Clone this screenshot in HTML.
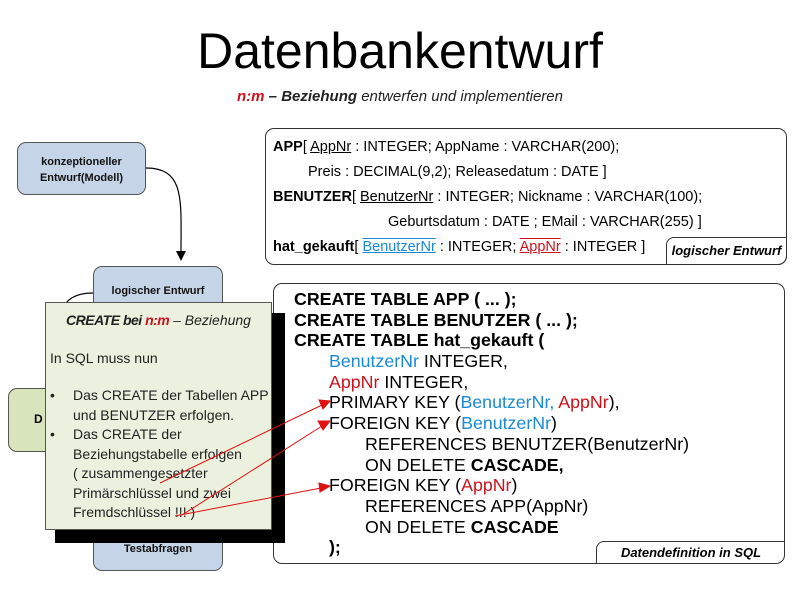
<!DOCTYPE html>
<html><head><meta charset="utf-8"><style>
body{margin:0;width:800px;height:600px;background:#fff;position:relative;overflow:hidden;font-family:"Liberation Sans",sans-serif}
.a{position:absolute}
.bl{background:#c6d4e8;border:1.5px solid #555;border-radius:9px;font-size:11px;font-weight:bold;text-align:center;box-sizing:border-box;color:#111}
.sql div{height:20.7px;line-height:20.7px;white-space:nowrap}
.b{color:#1a8ad4}.r{color:#d0101a}
.lg div{white-space:nowrap}
</style></head><body>
<div class="a" style="left:0;top:22px;width:800px;text-align:center;font-size:50px;color:#000">Datenbankentwurf</div>
<div class="a" style="left:0;top:88px;width:800px;text-align:center;font-size:15px;font-style:italic;color:#222"><b class="r">n:m</b><b> – Beziehung</b> entwerfen und implementieren</div>

<div class="a bl" style="left:17px;top:142px;width:129px;height:53px;padding-top:11px;line-height:16px">konzeptioneller<br>Entwurf(Modell)</div>
<div class="a bl" style="left:93px;top:266px;width:130px;height:60px;padding-top:18px">logischer Entwurf</div>
<div class="a" style="left:8px;top:388px;width:80px;height:62px;background:#d7e4bc;border:1.5px solid #555;border-radius:9px"></div>
<div class="a" style="left:34px;top:412px;font-weight:bold;font-size:12px">D</div>
<div class="a bl" style="left:93px;top:515px;width:130px;height:56px;padding-top:27px">Testabfragen</div>

<svg class="a" style="left:0;top:0" width="800" height="600">
<path d="M146,168 C185,168 181,200 181,252" fill="none" stroke="#000" stroke-width="1.2"/>
<polygon points="176,251 186,251 181,261" fill="#000"/>
<path d="M93,293 C75,293 65,300 63,310" fill="none" stroke="#000" stroke-width="1.2"/>
</svg>

<div class="a" style="left:265px;top:128px;width:522px;height:137px;border:1.5px solid #333;border-radius:9px;box-sizing:border-box"></div>
<div class="a lg" style="left:273px;top:135px;font-size:14.5px;line-height:25px">
<div><b>APP</b>[ <u>AppNr</u> : INTEGER; AppName : VARCHAR(200);</div>
<div style="padding-left:35px">Preis : DECIMAL(9,2); Releasedatum : DATE ]</div>
<div><b>BENUTZER</b>[ <u>BenutzerNr</u> : INTEGER; Nickname : VARCHAR(100);</div>
<div style="padding-left:115px">Geburtsdatum : DATE ; EMail : VARCHAR(255) ]</div>
<div><b>hat_gekauft</b>[ <span class="b" style="text-decoration:underline overline">BenutzerNr</span> : INTEGER; <span class="r" style="text-decoration:underline overline">AppNr</span> : INTEGER ]</div>
</div>
<div class="a" style="left:666px;top:237px;width:121px;height:28px;border:1.5px solid #333;border-radius:8px 0 9px 0;box-sizing:border-box;font-size:13px;font-style:italic;font-weight:bold;text-align:center;line-height:25px">logischer Entwurf</div>

<div class="a" style="left:273px;top:283px;width:512px;height:281px;border:1.5px solid #333;border-radius:9px;box-sizing:border-box"></div>
<div class="a sql" style="left:294px;top:289px;font-size:17.8px;color:#000">
<div><b>CREATE TABLE APP ( ... );</b></div>
<div><b>CREATE TABLE BENUTZER ( ... );</b></div>
<div><b>CREATE TABLE hat_gekauft (</b></div>
<div style="padding-left:35px"><span class="b">BenutzerNr</span> INTEGER,</div>
<div style="padding-left:35px"><span class="r">AppNr</span> INTEGER,</div>
<div style="padding-left:35px">PRIMARY KEY (<span class="b">BenutzerNr,</span> <span class="r">AppNr</span>),</div>
<div style="padding-left:35px">FOREIGN KEY (<span class="b">BenutzerNr</span>)</div>
<div style="padding-left:71px">REFERENCES BENUTZER(BenutzerNr)</div>
<div style="padding-left:71px">ON DELETE <b>CASCADE,</b></div>
<div style="padding-left:35px">FOREIGN KEY (<span class="r">AppNr</span>)</div>
<div style="padding-left:71px">REFERENCES APP(AppNr)</div>
<div style="padding-left:71px">ON DELETE <b>CASCADE</b></div>
<div style="padding-left:35px"><b>);</b></div>
</div>
<div class="a" style="left:596px;top:541px;width:189px;height:23px;border:1.5px solid #333;border-bottom:none;border-right:none;border-radius:8px 0 0 0;box-sizing:border-box;font-size:13px;font-style:italic;font-weight:bold;text-align:center;line-height:22px">Datendefinition in SQL</div>

<div class="a" style="left:55px;top:313px;width:230px;height:230px;background:#000"></div>
<div class="a" style="left:45px;top:302px;width:227px;height:228px;background:#ebf1de;border:1px solid #555;box-sizing:border-box;font-size:14px;color:#222">
<div style="text-align:center;margin-top:9px;font-style:italic"><b style="letter-spacing:-0.5px">CREATE bei <span class="r">n:m</span></b> – Beziehung</div>
<div style="margin:22px 0 0 4px">In SQL muss nun</div>
</div>
<div class="a" style="left:50px;top:386px;font-size:14px;line-height:19.5px;color:#222">
<div style="position:absolute;left:0;top:0">•</div><div style="position:absolute;left:0;top:39px">•</div>
<div style="margin-left:23px;white-space:nowrap">Das CREATE der Tabellen APP<br>und BENUTZER erfolgen.<br>Das CREATE der<br>Beziehungstabelle erfolgen<br>( zusammengesetzter<br>Primärschlüssel und zwei<br>Fremdschlüssel !!! )</div>
</div>

<svg class="a" style="left:0;top:0" width="800" height="600">
<g stroke="#e01010" stroke-width="1" fill="#e01010">
<line x1="160" y1="483" x2="322" y2="405"/><polygon points="330,401 319,400 323,409"/>
<line x1="182" y1="515" x2="322" y2="426"/><polygon points="330,421 318,421 323,430"/>
<line x1="175" y1="516" x2="321" y2="488"/><polygon points="330,486 319,483 320,492"/>
</g></svg>
</body></html>
